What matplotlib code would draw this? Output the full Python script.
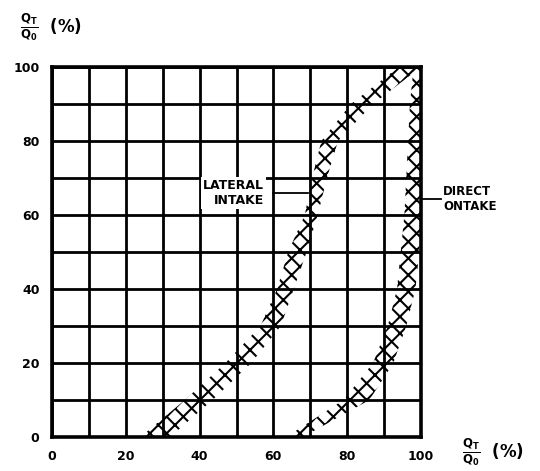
import matplotlib
matplotlib.use("Agg")
import matplotlib.pyplot as plt
import numpy as np

# ---- data ----
x_ticks = [0, 20, 40, 60, 80, 100]
y_ticks = [0, 20, 40, 60, 80, 100]

lat_y     = [0, 10, 20, 30, 40, 50, 60, 70, 80, 90, 100]
lat_left  = [24, 36, 47, 56.5, 61, 64, 68.5, 70.5, 73, 81, 94]
lat_right = [32, 43.5, 54, 62, 65.5, 69, 72, 74.5, 77.5, 87, 100]

dir_y     = [0, 10, 20, 30, 40, 50, 60, 70, 80, 90, 100]
dir_left  = [63.5, 79, 87, 91, 93.5, 94.5, 95.5, 96, 96.5, 97, 98]
dir_right = [68, 86, 92.5, 96, 98.5, 99.5, 100, 100, 100, 100, 100]

plt.rcParams['hatch.linewidth'] = 1.5
plt.rcParams['font.family'] = ['DejaVu Sans']

fig = plt.figure(figsize=(5.40, 4.71), dpi=100)
W, H = 540, 471
ax = fig.add_axes([52 / W, 1 - 437 / H, (421 - 52) / W, (437 - 67) / H])
ax.set_xlim(0, 100)
ax.set_ylim(0, 100)

# grid
for v in range(0, 101, 10):
    ax.axvline(v, color='black', lw=2.0, zorder=1)
    ax.axhline(v, color='black', lw=2.0, zorder=1)
for s in ax.spines.values():
    s.set_linewidth(2.6)

# bands
ax.fill_betweenx(lat_y, lat_left, lat_right, facecolor='none', edgecolor='black',
                 hatch='xx', linewidth=0, zorder=2)
ax.fill_betweenx(dir_y, dir_left, dir_right, facecolor='none', edgecolor='black',
                 hatch='xx', linewidth=0, zorder=2)

ax.set_xticks(x_ticks)
ax.set_yticks(y_ticks)
ax.set_xticklabels([str(v) for v in x_ticks], fontsize=9, fontweight='bold')
ax.set_yticklabels([str(v) for v in y_ticks], fontsize=9, fontweight='bold')
ax.tick_params(length=0, pad=9)

# annotations
box = dict(facecolor='white', edgecolor='none', pad=1.5)
ax.text(57.5, 66.0, 'LATERAL\nINTAKE', fontsize=9, fontweight='bold', ha='right',
        va='center', multialignment='right', linespacing=1.2, bbox=box, zorder=4)
ax.plot([60, 69.5], [66, 66], color='black', lw=1.3, zorder=3)

ax.text(106, 64.2, 'DIRECT\nONTAKE', fontsize=8.5, fontweight='bold', ha='left',
        va='center', linespacing=1.2, clip_on=False)
ax.plot([100.5, 105.5], [64.4, 64.4], color='black', lw=1.3, clip_on=False, zorder=3)

# axis labels
fig.text(20 / W, 1 - 27 / H, r'$\mathbf{\frac{Q_T}{Q_0}}$  (%)', fontsize=12,
         fontweight='bold', ha='left', va='center')
fig.text(462 / W, 1 - 452 / H, r'$\mathbf{\frac{Q_T}{Q_0}}$  (%)', fontsize=12,
         fontweight='bold', ha='left', va='center')

fig.savefig('out.png', dpi=100, facecolor='white')
